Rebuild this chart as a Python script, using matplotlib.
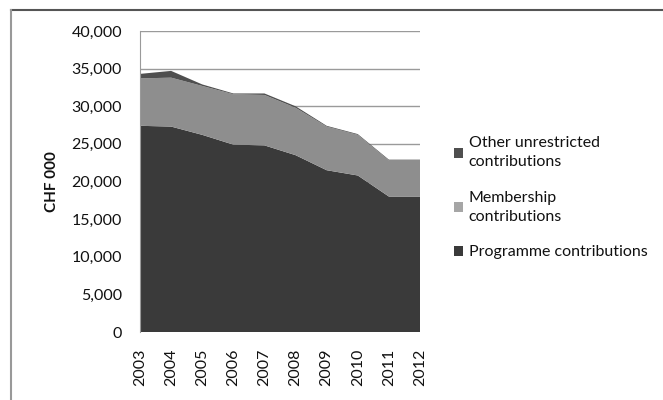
import matplotlib
matplotlib.use("Agg")
import matplotlib.pyplot as plt
from matplotlib.lines import Line2D
from matplotlib.patches import Patch
from matplotlib.ticker import FuncFormatter

years = ["2003", "2004", "2005", "2006", "2007", "2008", "2009", "2010", "2011", "2012"]
programme = [27400, 27300, 26200, 24900, 24800, 23500, 21500, 20800, 18000, 18000]
membership = [6300, 6500, 6500, 6700, 6700, 6300, 5800, 5400, 4800, 4800]
other = [600, 900, 200, 100, 200, 200, 100, 100, 100, 100]
labels = ["Programme contributions", "Membership\ncontributions", "Other unrestricted\ncontributions"]
colors = ["#3a3a3a", "#8e8e8e", "#4f4f4f"]
legend_colors = ["#3a3a3a", "#a6a6a6", "#4f4f4f"]

plt.rcParams['font.family'] = ['Lato', 'DejaVu Sans']

fig = plt.figure(figsize=(6.63, 4.0), dpi=100)
ax = fig.add_axes([140/663, 1-332/400, 280/663, 301/400])

x = list(range(len(years)))
ax.stackplot(x, programme, membership, other, colors=colors, linewidth=0, zorder=2)
ax.set_xlim(0, len(years)-1)
ax.set_ylim(0, 40000)
ax.set_yticks(range(0, 40001, 5000))
ax.yaxis.set_major_formatter(FuncFormatter(lambda v, p: f"{int(v):,}"))
ax.grid(axis='y', color='#9a9a9a', linewidth=1, zorder=1)
ax.set_xticks(x)
ax.set_xticklabels(years, rotation=90, fontsize=11.5, color='#111111')
for lab in ax.get_yticklabels():
    lab.set_fontsize(11.5)
    lab.set_color('#111111')
ax.tick_params(axis='y', length=0, pad=13)
ax.tick_params(axis='x', length=0, pad=12)
for s in ['top', 'right', 'bottom']:
    ax.spines[s].set_visible(False)
ax.spines['left'].set_color('#9a9a9a')
ax.set_ylabel("CHF 000", fontsize=11, fontweight='bold', color='#111111', labelpad=9)

handles = [Patch(facecolor=legend_colors[i], edgecolor='none') for i in [2, 1, 0]]
leg = fig.legend(handles, [labels[i] for i in [2, 1, 0]], loc='upper left',
                 bbox_to_anchor=(440/663, 1-122/400), frameon=False, fontsize=11.5,
                 handlelength=0.55, handleheight=0.55, handletextpad=0.35, labelspacing=1.35,
                 labelcolor='#111111')
for t in leg.get_texts():
    t.set_linespacing(1.45)

fig.add_artist(Line2D([11/663, 1], [1-10/400, 1-10/400], color='#555555', linewidth=1.5))
fig.add_artist(Line2D([11/663, 11/663], [0, 1-10/400], color='#999999', linewidth=1.5))

fig.savefig("out.png", dpi=100)
